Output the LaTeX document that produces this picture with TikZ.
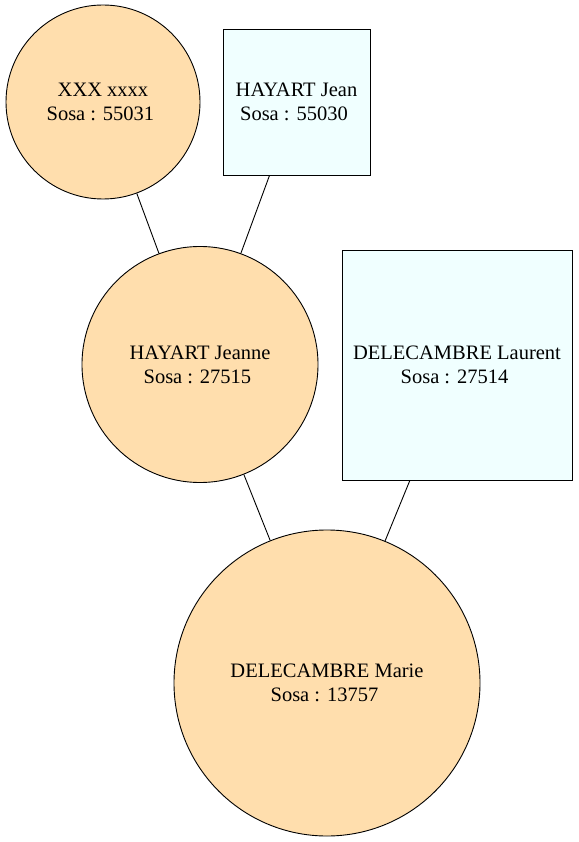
\documentclass[tikz,border=0pt]{standalone}
\usepackage{fontspec}
\setmainfont{Liberation Serif}
\definecolor{femfill}{HTML}{FFDEAD}
\definecolor{malfill}{HTML}{F0FFFF}
\tikzset{
  person/.style={draw=black, line width=0.9pt, inner sep=0pt, align=center,
    font=\fontsize{20.5}{24}\selectfont},
  fem/.style={person, circle, fill=femfill},
  mal/.style={person, rectangle, fill=malfill},
  link/.style={draw=black, line width=0.9pt}
}
\newcommand{\tsp}{\kern0.25em}
\begin{document}
\begin{tikzpicture}[x=1pt,y=-1pt]
\useasboundingbox (0,0) rectangle (578,842);
\node[fem, minimum size=194pt] (xxx) at (103,102) {XXX xxxx\\Sosa : 55031\tsp};
\node[mal, minimum width=147pt, minimum height=146pt] (jean) at (296.5,102) {HAYART Jean\\Sosa : 55030\tsp};
\node[fem, minimum size=236pt] (jeanne) at (200,364.5) {HAYART Jeanne\\Sosa : 27515\tsp};
\node[mal, minimum width=230pt, minimum height=230pt] (laurent) at (457,365) {DELECAMBRE Laurent\\Sosa : 27514\tsp};
\node[fem, minimum size=306pt] (marie) at (327,683) {DELECAMBRE Marie\\Sosa : 13757\tsp};
\draw[link] (xxx) -- (jeanne);
\draw[link] (jean) -- (jeanne);
\draw[link] (jeanne) -- (marie);
\draw[link] (laurent) -- (marie);
\end{tikzpicture}
\end{document}
